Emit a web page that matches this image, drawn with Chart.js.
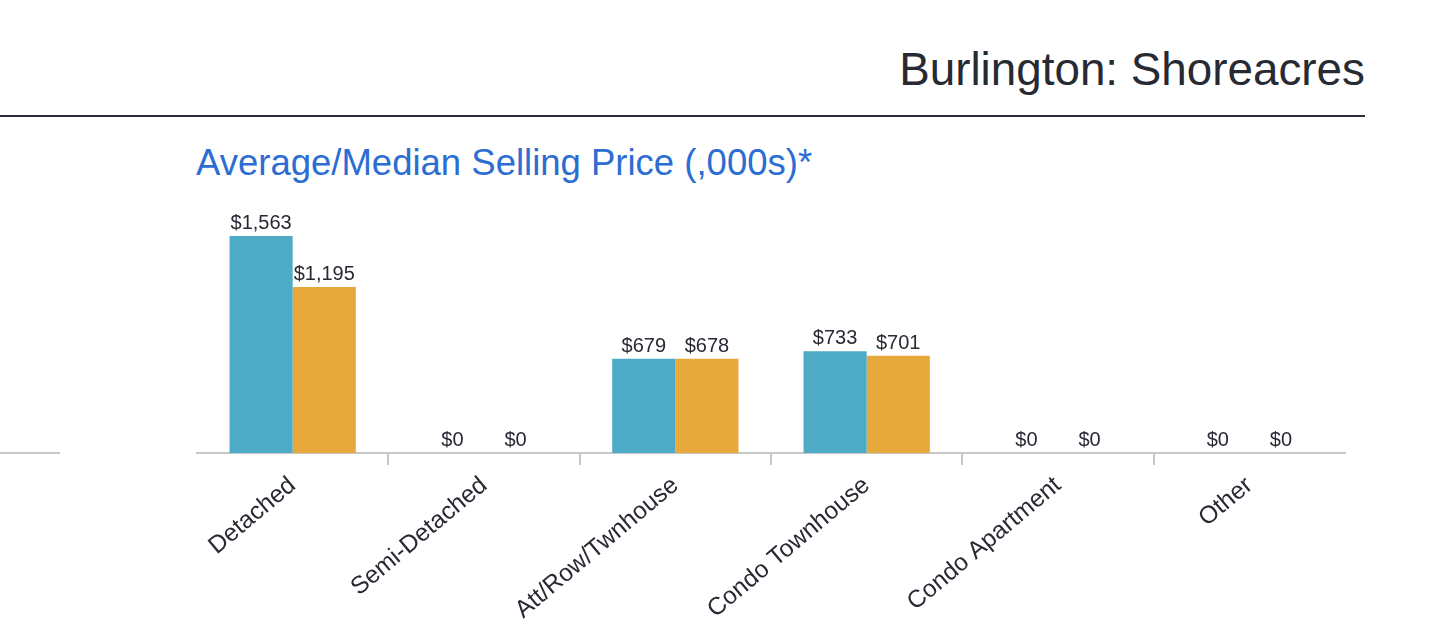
<!DOCTYPE html>
<html>
<head>
<meta charset="utf-8">
<script src="https://cdn.jsdelivr.net/npm/chart.js@4.4.1/dist/chart.umd.min.js"></script>
<style>
  html, body { margin: 0; padding: 0; background: #ffffff; width: 1444px; height: 636px; overflow: hidden; }
  body { position: relative; font-family: "Liberation Sans", Arial, Helvetica, sans-serif; }
  #title { position: absolute; right: 79px; top: 47px; font-size: 45.8px; line-height: 45px; color: #272a33; white-space: nowrap; }
  #rule { position: absolute; left: 0; top: 115px; width: 1365px; height: 2px; background: #2a2d36; }
  #subtitle { position: absolute; left: 196px; top: 145px; font-size: 36.5px; line-height: 36.5px; color: #2b6dd2; white-space: nowrap; }
  #stub { position: absolute; left: 0; top: 452px; width: 60px; height: 2px; background: #c8c8c8; }
  #wrap { position: absolute; left: 0; top: 190px; width: 1444px; height: 446px; }
</style>
</head>
<body>
<div id="title">Burlington: Shoreacres</div>
<div id="rule"></div>
<div id="subtitle">Average/Median Selling Price (,000s)*</div>
<div id="stub"></div>
<div id="wrap"><canvas id="c"></canvas></div>
<script>
const categories = ["Detached", "Semi-Detached", "Att/Row/Twnhouse", "Condo Townhouse", "Condo Apartment", "Other"];
const averagePrice = [1563, 0, 679, 733, 0, 0];
const medianPrice = [1195, 0, 678, 701, 0, 0];
const yMax = 1800;

const TEXT = '#272a33';
const AXIS = '#c8c8c8';
const FONT = '"Liberation Sans", Arial, Helvetica, sans-serif';

const valueLabels = {
  id: 'valueLabels',
  afterDatasetsDraw(chart) {
    const ctx = chart.ctx;
    ctx.save();
    ctx.font = '20px ' + FONT;
    ctx.fillStyle = TEXT;
    ctx.textAlign = 'center';
    ctx.textBaseline = 'alphabetic';
    chart.data.datasets.forEach((ds, di) => {
      const meta = chart.getDatasetMeta(di);
      meta.data.forEach((el, i) => {
        const v = ds.data[i];
        const txt = '$' + v.toLocaleString('en-US');
        ctx.fillText(txt, el.x, el.y - 7);
      });
    });
    ctx.restore();
  }
};

new Chart(document.getElementById('c'), {
  type: 'bar',
  data: {
    labels: categories,
    datasets: [
      { label: 'Average', data: averagePrice, backgroundColor: '#4dabc5', borderWidth: 0 },
      { label: 'Median', data: medianPrice, backgroundColor: '#e8a93c', borderWidth: 0 }
    ]
  },
  options: {
    responsive: true,
    maintainAspectRatio: false,
    animation: false,
    devicePixelRatio: 1,
    layout: { padding: { left: 197, right: 99, top: 13, bottom: 0 } },
    plugins: { legend: { display: false }, tooltip: { enabled: false }, title: { display: false } },
    datasets: { bar: { categoryPercentage: 0.66, barPercentage: 1 } },
    scales: {
      x: {
        afterFit(scale) { scale.height = 183; },
        grid: {
          offset: true,
          drawOnChartArea: false,
          drawTicks: true,
          tickLength: 12,
          lineWidth: 2,
          color: (c) => (c.index > 0 && c.index < categories.length) ? AXIS : 'rgba(0,0,0,0)'
        },
        border: { display: true, color: AXIS, width: 2 },
        ticks: {
          autoSkip: false,
          maxRotation: 40,
          minRotation: 40,
          padding: 6,
          color: TEXT,
          font: { family: FONT, size: 24.5 }
        }
      },
      y: {
        display: false,
        min: 0,
        max: yMax
      }
    }
  },
  plugins: [valueLabels]
});
</script>
</body>
</html>
